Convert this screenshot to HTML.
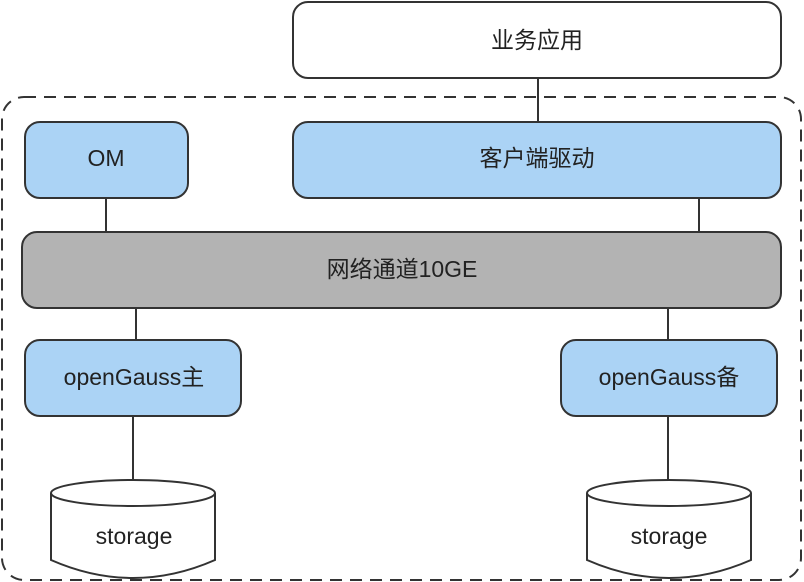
<!DOCTYPE html>
<html><head><meta charset="utf-8"><style>body{margin:0;background:#fff}svg{display:block}text{font-family:"Liberation Sans","Noto Sans CJK SC",sans-serif;font-size:23px;fill:#222;text-anchor:middle;dominant-baseline:middle}</style></head><body>
<svg width="804" height="582" viewBox="0 0 804 582">
<g stroke="#333" stroke-width="2">
<rect x="2" y="97" width="799" height="483" rx="22" fill="none" stroke-dasharray="12,8"/>
<line x1="538" y1="78" x2="538" y2="122"/>
<line x1="106" y1="198" x2="106" y2="232"/>
<line x1="699" y1="198" x2="699" y2="232"/>
<line x1="136" y1="308" x2="136" y2="340"/>
<line x1="668" y1="308" x2="668" y2="340"/>
<line x1="133" y1="416" x2="133" y2="481"/>
<line x1="668" y1="416" x2="668" y2="481"/>
<rect x="293" y="2" width="488" height="76" rx="15" fill="#fff"/>
<rect x="25" y="122" width="163" height="76" rx="15" fill="#abd3f5"/>
<rect x="293" y="122" width="488" height="76" rx="15" fill="#abd3f5"/>
<rect x="22" y="232" width="759" height="76" rx="15" fill="#b3b3b3"/>
<rect x="25" y="340" width="216" height="76" rx="15" fill="#abd3f5"/>
<rect x="561" y="340" width="216" height="76" rx="15" fill="#abd3f5"/>
<path d="M51 493 A82 13 0 0 1 215 493 L215 560 Q133 596 51 560 Z" fill="#fff"/>
<path d="M51 493 A82 13 0 0 0 215 493" fill="none"/>
<path d="M587 493 A82 13 0 0 1 751 493 L751 560 Q669 596 587 560 Z" fill="#fff"/>
<path d="M587 493 A82 13 0 0 0 751 493" fill="none"/>
</g>
<text x="537" y="42">业务应用</text>
<text x="106" y="160">OM</text>
<text x="537" y="160">客户端驱动</text>
<text x="402" y="271">网络通道10GE</text>
<text x="134" y="379">openGauss主</text>
<text x="669" y="379">openGauss备</text>
<text x="134" y="538">storage</text>
<text x="669" y="538">storage</text>
</svg>
</body></html>
